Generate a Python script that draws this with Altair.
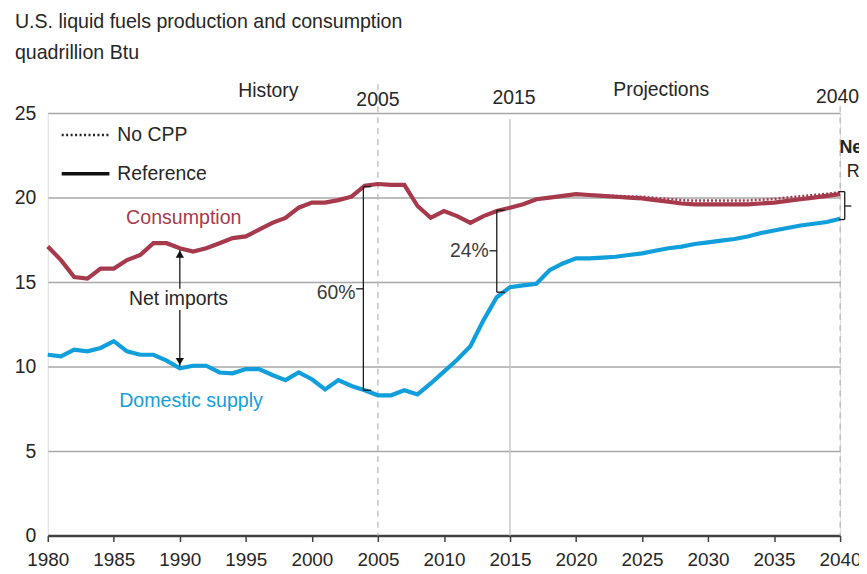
import altair as alt
import pandas as pd

# ---------------- data ----------------
years = list(range(1980, 2041))
consumption = [
    17.1, 16.3, 15.3, 15.2, 15.8, 15.8, 16.3, 16.6, 17.3, 17.3,   # 1980-89
    17.0, 16.8, 17.0, 17.3, 17.6, 17.7, 18.1, 18.5, 18.8, 19.4,   # 1990-99
    19.7, 19.7, 19.85, 20.05, 20.7, 20.8, 20.75, 20.75, 19.5, 18.8,  # 2000-09
    19.2, 18.9, 18.5, 18.9, 19.2, 19.4, 19.6, 19.9, 20.0, 20.1,   # 2010-19
    20.2, 20.15, 20.1, 20.05, 20.0, 19.95, 19.85, 19.75, 19.65, 19.6,  # 2020-29
    19.6, 19.6, 19.6, 19.6, 19.65, 19.7, 19.8, 19.9, 20.0, 20.1,  # 2030-39
    20.2,                                                          # 2040
]
domestic_supply = [
    10.7, 10.6, 11.0, 10.9, 11.1, 11.5, 10.9, 10.7, 10.7, 10.35,  # 1980-89
    9.9, 10.05, 10.05, 9.65, 9.6, 9.85, 9.85, 9.5, 9.2, 9.65,     # 1990-99
    9.25, 8.65, 9.2, 8.85, 8.6, 8.3, 8.3, 8.6, 8.35, 9.0,         # 2000-09
    9.7, 10.4, 11.2, 12.75, 14.1, 14.7, 14.8, 14.9, 15.7, 16.1,   # 2010-19
    16.4, 16.4, 16.45, 16.5, 16.6, 16.7, 16.85, 17.0, 17.1, 17.25,  # 2020-29
    17.35, 17.45, 17.55, 17.7, 17.9, 18.05, 18.2, 18.35, 18.45, 18.55,  # 2030-39
    18.75,                                                         # 2040
]
nocpp_years = list(range(2020, 2041))
nocpp_consumption = [
    20.2, 20.17, 20.13, 20.1, 20.07, 20.05, 19.98, 19.92, 19.85, 19.82,
    19.82, 19.82, 19.82, 19.83, 19.87, 19.92, 20.0, 20.08, 20.15, 20.22,
    20.32,
]

x_ticks = list(range(1980, 2041, 5))
y_ticks = [0, 5, 10, 15, 20, 25]

RED = "#a63a4c"
BLUE = "#119fdc"
FONT = "Liberation Sans"
TXT = "#262626"
FS = 19.5

# ---------------- tables ----------------
lines_df = pd.DataFrame(
    {"year": years * 2,
     "value": consumption + domestic_supply,
     "series": ["Consumption"] * len(years) + ["Domestic supply"] * len(years)}
)
nocpp_df = pd.DataFrame({"year": nocpp_years, "value": nocpp_consumption})

xs = alt.Scale(domain=[1980, 2040], nice=False, zero=False)
ys = alt.Scale(domain=[0, 25], nice=False)

base_x = alt.X("year:Q", scale=xs,
               axis=alt.Axis(values=x_ticks, format="d", title=None, grid=False,
                             labelFontSize=19, labelFont=FONT, labelColor=TXT,
                             domainColor="#404040", domainWidth=2.5,
                             tickColor="#404040", tickWidth=1.5, tickSize=6,
                             labelPadding=9, labelFlush=False))
base_y = alt.Y("value:Q", scale=ys,
               axis=alt.Axis(values=y_ticks, title=None, domain=False, ticks=False,
                             labelFontSize=19.5, labelFont=FONT, labelColor=TXT,
                             labelPadding=12, gridColor="#a8a8a8", gridWidth=1.5))

# vertical reference lines
vlines_df = pd.DataFrame({
    "year": [2005, 2015, 2040],
    "top": [26.7, 24.65, 25.4],
    "bottom": [0, 0, 0],
    "kind": ["dash", "solid", "dash"],
})
vdash = alt.Chart(vlines_df[vlines_df.kind == "dash"]).mark_rule(
    color="#b5b5b5", strokeWidth=1.2, strokeDash=[6, 5]
).encode(x=alt.X("year:Q", scale=xs), y=alt.Y("top:Q", scale=ys), y2="bottom:Q")
vsolid = alt.Chart(vlines_df[vlines_df.kind == "solid"]).mark_rule(
    color="#c8c8c8", strokeWidth=1.5
).encode(x=alt.X("year:Q", scale=xs), y=alt.Y("top:Q", scale=ys), y2="bottom:Q")

# main lines
main = alt.Chart(lines_df).mark_line(strokeWidth=4.2).encode(
    x=base_x, y=base_y,
    color=alt.Color("series:N",
                    scale=alt.Scale(domain=["Consumption", "Domestic supply"], range=[RED, BLUE]),
                    legend=None),
    detail="series:N",
)
nocpp = alt.Chart(nocpp_df).mark_line(strokeWidth=2.5, strokeDash=[2, 2], color=RED).encode(
    x=alt.X("year:Q", scale=xs), y=alt.Y("value:Q", scale=ys)
)

# brackets (segments)
seg_df = pd.DataFrame([
    # 60% bracket
    {"x": 2003.9, "x2": 2003.9, "y": 20.65, "y2": 8.6},
    {"x": 2003.9, "x2": 2004.5, "y": 20.65, "y2": 20.65},
    {"x": 2003.9, "x2": 2004.5, "y": 8.6, "y2": 8.6},
    {"x": 2003.35, "x2": 2003.9, "y": 14.6, "y2": 14.6},
    # 24% bracket
    {"x": 2014.0, "x2": 2014.0, "y": 19.25, "y2": 14.4},
    {"x": 2014.0, "x2": 2014.6, "y": 19.25, "y2": 19.25},
    {"x": 2014.0, "x2": 2014.6, "y": 14.4, "y2": 14.4},
    {"x": 2013.45, "x2": 2014.0, "y": 16.85, "y2": 16.85},
    # 2040 bracket
    {"x": 2040.35, "x2": 2040.35, "y": 20.35, "y2": 18.7},
    {"x": 2039.9, "x2": 2040.35, "y": 20.35, "y2": 20.35},
    {"x": 2039.9, "x2": 2040.35, "y": 18.7, "y2": 18.7},
    {"x": 2040.35, "x2": 2040.85, "y": 19.5, "y2": 19.5},
    # net imports arrow (split around the label)
    {"x": 1990.0, "x2": 1990.0, "y": 16.9, "y2": 14.6},
    {"x": 1990.0, "x2": 1990.0, "y": 13.35, "y2": 10.0},
])
segs = alt.Chart(seg_df).mark_rule(color="#1a1a1a", strokeWidth=1.3).encode(
    x=alt.X("x:Q", scale=xs), x2="x2:Q", y=alt.Y("y:Q", scale=ys), y2="y2:Q"
)
heads_df = pd.DataFrame({"x": [1990.0, 1990.0], "y": [16.65, 10.3],
                         "shape": ["triangle-up", "triangle-down"]})
heads = alt.Chart(heads_df).mark_point(filled=True, color="#111111", size=70, opacity=1).encode(
    x=alt.X("x:Q", scale=xs), y=alt.Y("y:Q", scale=ys),
    shape=alt.Shape("shape:N", scale=None, legend=None),
)

# text annotations in data coordinates
def txt(df, **kw):
    return alt.Chart(df).mark_text(font=FONT, **kw).encode(
        x=alt.X("x:Q", scale=xs), y=alt.Y("y:Q", scale=ys), text="t:N"
    )

center_black = pd.DataFrame([
    {"x": 1989.9, "y": 14.0, "t": "Net imports"},
    {"x": 1996.7, "y": 26.3, "t": "History"},
    {"x": 2005.0, "y": 25.75, "t": "2005"},
    {"x": 2015.3, "y": 25.9, "t": "2015"},
    {"x": 2026.45, "y": 26.35, "t": "Projections"},
    {"x": 2039.8, "y": 25.95, "t": "2040"},
])
right_pct = pd.DataFrame([
    {"x": 2003.3, "y": 14.35, "t": "60%"},
    {"x": 2013.4, "y": 16.85, "t": "24%"},
])
t_black = txt(center_black, fontSize=FS, color=TXT, align="center", baseline="middle")
t_pct = txt(right_pct, fontSize=FS, color="#3a3a3a", align="right", baseline="middle")
t_cons = txt(pd.DataFrame([{"x": 1990.3, "y": 18.8, "t": "Consumption"}]),
             fontSize=19.7, color=RED, align="center", baseline="middle")
t_dom = txt(pd.DataFrame([{"x": 1990.85, "y": 7.95, "t": "Domestic supply"}]),
            fontSize=19.7, color=BLUE, align="center", baseline="middle")
t_net40 = txt(pd.DataFrame([{"x": 2039.95, "y": 22.95, "t": "Net imports, 2040"}]),
              fontSize=18, fontWeight="bold", color=TXT, align="left", baseline="middle")
t_ref40 = txt(pd.DataFrame([{"x": 2040.5, "y": 21.5, "t": "Reference"}]),
              fontSize=18, color=TXT, align="left", baseline="middle")

# title and legend (pixel placement within the plot frame)
title_df = pd.DataFrame([
    {"px": -33, "py": -92, "t": "U.S. liquid fuels production and consumption"},
    {"px": -33, "py": -60, "t": "quadrillion Btu"},
])
title = alt.Chart(title_df).mark_text(font=FONT, fontSize=19.7, color=TXT, align="left",
                                      baseline="middle").encode(
    x=alt.X("px:Q", scale=None), y=alt.Y("py:Q", scale=None), text="t:N")

leg_lines = pd.DataFrame([
    {"x": 14, "x2": 62, "y": 22, "dash": "No CPP"},
    {"x": 14, "x2": 62, "y": 61, "dash": "Reference"},
])
leg_dot = alt.Chart(leg_lines[leg_lines.dash == "No CPP"]).mark_rule(
    color="#222222", strokeWidth=2.5, strokeDash=[2, 2.5]
).encode(x=alt.X("x:Q", scale=None), x2="x2:Q", y=alt.Y("y:Q", scale=None))
leg_sol = alt.Chart(leg_lines[leg_lines.dash == "Reference"]).mark_rule(
    color="#111111", strokeWidth=3.5
).encode(x=alt.X("x:Q", scale=None), x2="x2:Q", y=alt.Y("y:Q", scale=None))
leg_txt = alt.Chart(pd.DataFrame([
    {"x": 70, "y": 22, "t": "No CPP"},
    {"x": 70, "y": 61, "t": "Reference"},
])).mark_text(font=FONT, fontSize=FS, color=TXT, align="left", baseline="middle").encode(
    x=alt.X("x:Q", scale=None), y=alt.Y("y:Q", scale=None), text="t:N")

chart = alt.layer(
    vdash, vsolid, main, nocpp, segs, heads,
    t_black, t_pct, t_cons, t_dom, t_net40, t_ref40,
    title, leg_dot, leg_sol, leg_txt,
).properties(
    width=797, height=425,
    autosize=alt.AutoSizeParams(type="none"),
    padding={"left": 40, "top": 104, "right": 19, "bottom": 40},
).configure_view(stroke=None).configure(background="white")

chart.save("out.html", embed_options={"renderer": "svg", "actions": False})
